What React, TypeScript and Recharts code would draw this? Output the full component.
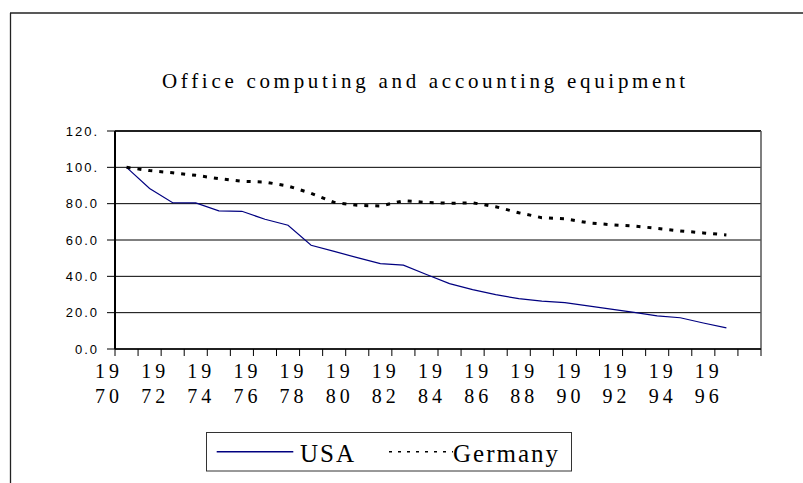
import React from 'react';
import { LineChart, Line, XAxis, YAxis, CartesianGrid, Legend, ReferenceLine } from 'recharts';

const years = [1970, 1971, 1972, 1973, 1974, 1975, 1976, 1977, 1978, 1979, 1980, 1981, 1982, 1983, 1984, 1985, 1986, 1987, 1988, 1989, 1990, 1991, 1992, 1993, 1994, 1995, 1996, 1997];
const usa = [100, 88.4, 80.5, 80.4, 76.0, 75.8, 71.4, 68.1, 57.1, 53.7, 50.3, 47.0, 46.2, 41.0, 36.0, 32.7, 29.9, 27.7, 26.4, 25.5, 23.7, 22.0, 20.2, 18.2, 17.2, 14.3, 11.6, null];
const germany = [100, 98.2, 97.0, 95.6, 93.8, 92.3, 91.9, 89.7, 85.7, 80.7, 79.1, 78.7, 81.6, 80.7, 80.2, 80.5, 78.3, 75.0, 72.3, 71.7, 69.5, 68.4, 67.7, 66.4, 65.0, 63.9, 62.8, null];
const yTicks = [0, 20, 40, 60, 80, 100, 120];
const yTickLabels = ['0.0', '20.0', '40.0', '60.0', '80.0', '100.', '120.'];
const xTickLabels = ['1970', '1972', '1974', '1976', '1978', '1980', '1982', '1984', '1986', '1988', '1990', '1992', '1994', '1996'];
const title = 'Office computing and accounting equipment';

const data = years.map((y, i) => ({ year: y, usa: usa[i], germany: germany[i] }));
const xTicks = [...years.map((y) => y - 0.5), years[years.length - 1] + 0.5];

const SERIF = '"Liberation Serif", "Times New Roman", serif';
const SANS = '"Liberation Sans", Arial, sans-serif';

const YTick = (props: any) => {
  const { x, y, payload } = props;
  const idx = yTicks.indexOf(payload.value);
  return (
    <text x={x} y={y + 4.6} textAnchor="end" fontFamily={SANS} fontSize={13} letterSpacing={2} fill="#000">
      {yTickLabels[idx]}
    </text>
  );
};

const XTick = (props: any) => {
  const { x, y, payload } = props;
  const label = String(payload.value + 0.5);
  if (!xTickLabels.includes(label)) return <g />;
  const cx = x - 6;
  return (
    <text textAnchor="middle" fontFamily={SERIF} fontSize={20} letterSpacing={4} fill="#000">
      <tspan x={cx} y={y + 20}>{label.slice(0, 2)}</tspan>
      <tspan x={cx} y={y + 45}>{label.slice(2)}</tspan>
    </text>
  );
};

const LegendBox = () => (
  <svg width={366} height={40} style={{ display: 'block' }}>
    <rect x={0.5} y={0.5} width={365} height={38.5} fill="#fff" stroke="#333" strokeWidth={1} />
    <line x1={10.7} y1={19.7} x2={87.3} y2={19.7} stroke="#000080" strokeWidth={1.5} />
    <text x={94} y={29.7} fontFamily={SERIF} fontSize={25} letterSpacing={2} fill="#000">USA</text>
    <line x1={183} y1={19.7} x2={247} y2={19.7} stroke="#000" strokeWidth={1.5} strokeDasharray="3 6" />
    <text x={247} y={29.7} fontFamily={SERIF} fontSize={25} letterSpacing={2} fill="#000">Germany</text>
  </svg>
);

export default function App() {
  return (
    <div style={{ position: 'absolute', left: 0, top: 0, width: 803, height: 483, background: '#fff', overflow: 'hidden' }}>
      <svg width={803} height={483} style={{ position: 'absolute', left: 0, top: 0 }}>
        <line x1={10} y1={13} x2={803} y2={13} stroke="#222" strokeWidth={1.3} />
        <line x1={10.5} y1={13} x2={10.5} y2={483} stroke="#222" strokeWidth={1.3} />
        <text x={162} y={87.5} fontFamily={SERIF} fontSize={21} letterSpacing={3.7} fill="#000">{title}</text>
      </svg>
      <div style={{ position: 'absolute', left: 0, top: 0 }}>
        <LineChart width={803} height={483} data={data} margin={{ top: 131, right: 42, bottom: 34, left: 0 }}>
          <CartesianGrid vertical={false} stroke="#000" strokeWidth={1} />
          <XAxis
            type="number"
            dataKey="year"
            domain={[1969.5, 1997.5]}
            ticks={xTicks}
            interval={0}
            height={60}
            tickSize={7}
            tick={<XTick />}
            axisLine={{ stroke: '#000', strokeWidth: 1.5 }}
            tickLine={{ stroke: '#000', strokeWidth: 1 }}
            allowDataOverflow
          />
          <YAxis
            type="number"
            domain={[0, 120]}
            ticks={yTicks}
            interval={0}
            width={115}
            tickSize={8}
            tickMargin={8}
            tick={<YTick />}
            axisLine={{ stroke: '#000', strokeWidth: 2 }}
            tickLine={{ stroke: '#000', strokeWidth: 1 }}
          />
          <ReferenceLine y={120} stroke="#000" strokeWidth={1.5} />
          <ReferenceLine x={1997.5} stroke="#555" strokeWidth={1.5} />
          <Line type="linear" dataKey="usa" stroke="#000080" strokeWidth={1.2} dot={false} isAnimationActive={false} />
          <Line type="linear" dataKey="germany" stroke="#000" strokeWidth={3} strokeDasharray="4 7" dot={false} isAnimationActive={false} />
          <Legend
            verticalAlign="bottom"
            align="left"
            layout="horizontal"
            wrapperStyle={{ left: 206, top: 432, bottom: 'auto', width: 366, height: 40 }}
            content={<LegendBox />}
          />
        </LineChart>
      </div>
    </div>
  );
}
